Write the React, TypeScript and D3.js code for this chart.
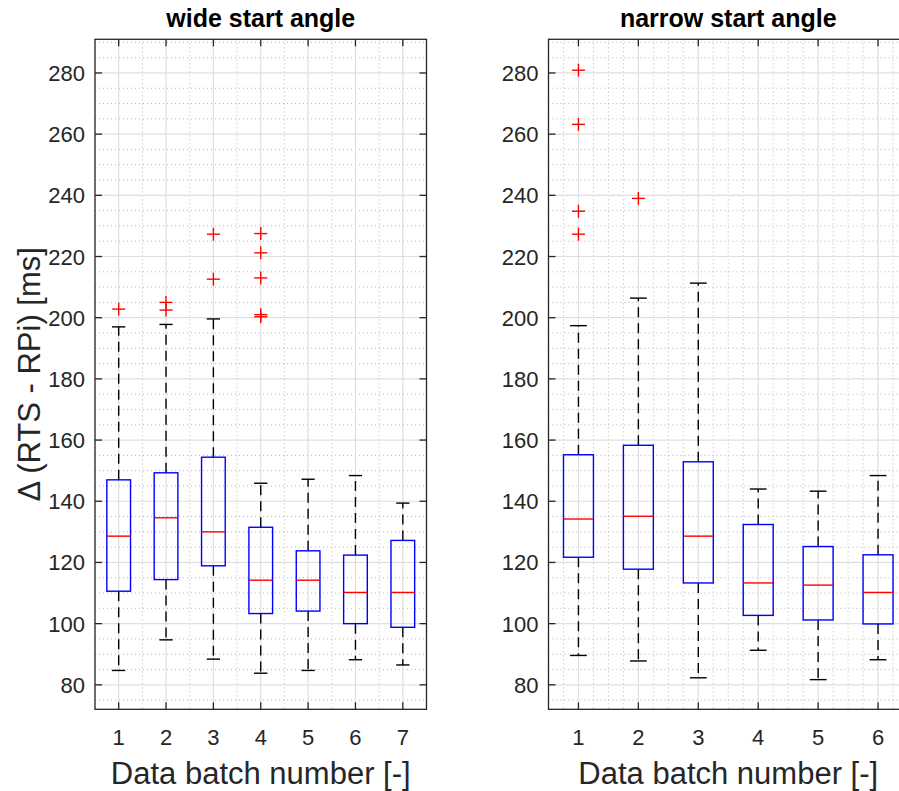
import React from "react";
import * as d3 from "d3";

// ---------- data ----------
const wideBatches = [1, 2, 3, 4, 5, 6, 7];
const wideLower = [84.7, 94.7, 88.4, 83.8, 84.7, 88.2, 86.5];
const wideQ1 = [110.6, 114.4, 118.9, 103.3, 104.1, 100.0, 98.8];
const wideMedian = [128.6, 134.6, 130.0, 114.2, 114.2, 110.2, 110.2];
const wideQ3 = [147.0, 149.3, 154.4, 131.5, 123.8, 122.4, 127.2];
const wideUpper = [197.0, 197.8, 199.6, 145.9, 147.2, 148.4, 139.4];
const wideOutliers = [
  [202.8],
  [205.0, 202.5],
  [227.3, 212.6],
  [227.5, 221.2, 213.0, 201.0, 200.3],
  [],
  [],
  [],
];

const narrowBatches = [1, 2, 3, 4, 5, 6];
const narrowLower = [89.6, 87.8, 82.3, 91.3, 81.7, 88.2];
const narrowQ1 = [121.7, 117.8, 113.3, 102.7, 101.2, 99.9];
const narrowMedian = [134.2, 135.1, 128.6, 113.3, 112.6, 110.2];
const narrowQ3 = [155.2, 158.3, 152.9, 132.4, 125.2, 122.5];
const narrowUpper = [197.4, 206.4, 211.3, 144.0, 143.3, 148.4];
const narrowOutliers = [[280.9, 263.2, 234.8, 227.3], [239.0], [], [], [], []];

const yTicks = [80, 100, 120, 140, 160, 180, 200, 220, 240, 260, 280];
const yDomain: [number, number] = [72, 291];

const titles = ["wide start angle", "narrow start angle"];
const xLabelText = "Data batch number [-]";
const yLabelText = "Δ (RTS - RPi) [ms]";

// ---------- layout ----------
const W = 899;
const H = 791;
const TOP = 39.3;
const BOTTOM = 709.3;
const FONT = "'Liberation Sans', Arial, Helvetica, sans-serif";
const AXIS_COLOR = "#262626";

type Panel = {
  batches: number[];
  lower: number[];
  q1: number[];
  median: number[];
  q3: number[];
  upper: number[];
  outliers: number[][];
  x0: number;
  x1: number;
  title: string;
  minorStep: number;
};

const panels: Panel[] = [
  {
    batches: wideBatches,
    lower: wideLower,
    q1: wideQ1,
    median: wideMedian,
    q3: wideQ3,
    upper: wideUpper,
    outliers: wideOutliers,
    x0: 95,
    x1: 426.5,
    title: titles[0],
    minorStep: 0.5,
  },
  {
    batches: narrowBatches,
    lower: narrowLower,
    q1: narrowQ1,
    median: narrowMedian,
    q3: narrowQ3,
    upper: narrowUpper,
    outliers: narrowOutliers,
    x0: 548.5,
    x1: 908,
    title: titles[1],
    minorStep: 0.25,
  },
];

function BoxPanel({ p }: { p: Panel }) {
  const n = p.batches.length;
  const x = d3.scaleLinear().domain([0.5, n + 0.5]).range([p.x0, p.x1]);
  const y = d3.scaleLinear().domain(yDomain).range([BOTTOM, TOP]);
  const unit = x(1) - x(0);
  const boxW = 0.5 * unit;
  const capW = 0.28 * unit;
  const tickLen = 7;

  const minorX = d3.range(0.5, n + 0.5 + 1e-9, p.minorStep).filter(
    (v) => Math.abs(v - Math.round(v)) > 1e-6
  );
  const minorY = d3.range(75, 291, 5).filter((v) => v % 20 !== 0);

  const crossHalf = 6.5;

  return (
    <g>
      {/* minor grid */}
      {minorX.map((v, i) => (
        <line
          key={"mx" + i}
          x1={x(v)}
          x2={x(v)}
          y1={TOP}
          y2={BOTTOM}
          stroke="#b8b8b8"
          strokeWidth={1}
          strokeDasharray="1,3"
        />
      ))}
      {minorY.map((v, i) => (
        <line
          key={"my" + i}
          x1={p.x0}
          x2={p.x1}
          y1={y(v)}
          y2={y(v)}
          stroke="#b8b8b8"
          strokeWidth={1}
          strokeDasharray="1,3"
        />
      ))}
      {/* major grid */}
      {p.batches.map((b) => (
        <line
          key={"gx" + b}
          x1={x(b)}
          x2={x(b)}
          y1={TOP}
          y2={BOTTOM}
          stroke="#dfdfdf"
          strokeWidth={1.2}
        />
      ))}
      {yTicks.map((t) => (
        <line
          key={"gy" + t}
          x1={p.x0}
          x2={p.x1}
          y1={y(t)}
          y2={y(t)}
          stroke="#dfdfdf"
          strokeWidth={1.2}
        />
      ))}

      {/* boxes */}
      {p.batches.map((b, i) => {
        const cx = x(b);
        return (
          <g key={"box" + b}>
            <line
              x1={cx}
              x2={cx}
              y1={y(p.q3[i])}
              y2={y(p.upper[i])}
              stroke="#000"
              strokeWidth={1.4}
              strokeDasharray="10,6"
            />
            <line
              x1={cx}
              x2={cx}
              y1={y(p.q1[i])}
              y2={y(p.lower[i])}
              stroke="#000"
              strokeWidth={1.4}
              strokeDasharray="10,6"
            />
            <line
              x1={cx - capW / 2}
              x2={cx + capW / 2}
              y1={y(p.upper[i])}
              y2={y(p.upper[i])}
              stroke="#000"
              strokeWidth={1.4}
            />
            <line
              x1={cx - capW / 2}
              x2={cx + capW / 2}
              y1={y(p.lower[i])}
              y2={y(p.lower[i])}
              stroke="#000"
              strokeWidth={1.4}
            />
            <rect
              x={cx - boxW / 2}
              y={y(p.q3[i])}
              width={boxW}
              height={y(p.q1[i]) - y(p.q3[i])}
              fill="none"
              stroke="#0000ff"
              strokeWidth={1.4}
            />
            <line
              x1={cx - boxW / 2}
              x2={cx + boxW / 2}
              y1={y(p.median[i])}
              y2={y(p.median[i])}
              stroke="#ff0000"
              strokeWidth={1.4}
            />
            {p.outliers[i].map((o, j) => (
              <g key={"o" + j} stroke="#ff0000" strokeWidth={1.4}>
                <line x1={cx - crossHalf} x2={cx + crossHalf} y1={y(o)} y2={y(o)} />
                <line x1={cx} x2={cx} y1={y(o) - crossHalf} y2={y(o) + crossHalf} />
              </g>
            ))}
          </g>
        );
      })}

      {/* axes box */}
      <rect
        x={p.x0}
        y={TOP}
        width={p.x1 - p.x0}
        height={BOTTOM - TOP}
        fill="none"
        stroke={AXIS_COLOR}
        strokeWidth={1.3}
      />
      {/* ticks */}
      {p.batches.map((b) => (
        <g key={"tx" + b} stroke={AXIS_COLOR} strokeWidth={1.3}>
          <line x1={x(b)} x2={x(b)} y1={BOTTOM} y2={BOTTOM - tickLen} />
          <line x1={x(b)} x2={x(b)} y1={TOP} y2={TOP + tickLen} />
        </g>
      ))}
      {yTicks.map((t) => (
        <g key={"ty" + t} stroke={AXIS_COLOR} strokeWidth={1.3}>
          <line x1={p.x0} x2={p.x0 + tickLen} y1={y(t)} y2={y(t)} />
          <line x1={p.x1} x2={p.x1 - tickLen} y1={y(t)} y2={y(t)} />
        </g>
      ))}
      {/* tick labels */}
      {p.batches.map((b) => (
        <text
          key={"lx" + b}
          x={x(b)}
          y={744.5}
          textAnchor="middle"
          fontFamily={FONT}
          fontSize={22}
          fill={AXIS_COLOR}
        >
          {b}
        </text>
      ))}
      {yTicks.map((t) => (
        <text
          key={"ly" + t}
          x={p.x0 - 10}
          y={y(t) + 8}
          textAnchor="end"
          fontFamily={FONT}
          fontSize={22}
          fill={AXIS_COLOR}
        >
          {t}
        </text>
      ))}
      {/* x label */}
      <text
        x={(p.x0 + p.x1) / 2}
        y={784}
        textAnchor="middle"
        fontFamily={FONT}
        fontSize={31}
        fill={AXIS_COLOR}
      >
        {xLabelText}
      </text>
      {/* title */}
      <text
        x={(p.x0 + p.x1) / 2}
        y={27}
        textAnchor="middle"
        fontFamily={FONT}
        fontSize={25}
        fontWeight="bold"
        fill="#000"
      >
        {p.title}
      </text>
    </g>
  );
}

export default function App() {
  const yMid = (TOP + BOTTOM) / 2;
  return (
    <svg
      width={W}
      height={H}
      viewBox={`0 0 ${W} ${H}`}
      style={{ position: "absolute", left: 0, top: 0, background: "#fff" }}
    >
      <rect x={0} y={0} width={W} height={H} fill="#fff" />
      {panels.map((p, i) => (
        <BoxPanel key={i} p={p} />
      ))}
      <text
        transform={`translate(40, ${yMid}) rotate(-90)`}
        textAnchor="middle"
        fontFamily={FONT}
        fontSize={31}
        fill={AXIS_COLOR}
      >
        {yLabelText}
      </text>
    </svg>
  );
}
